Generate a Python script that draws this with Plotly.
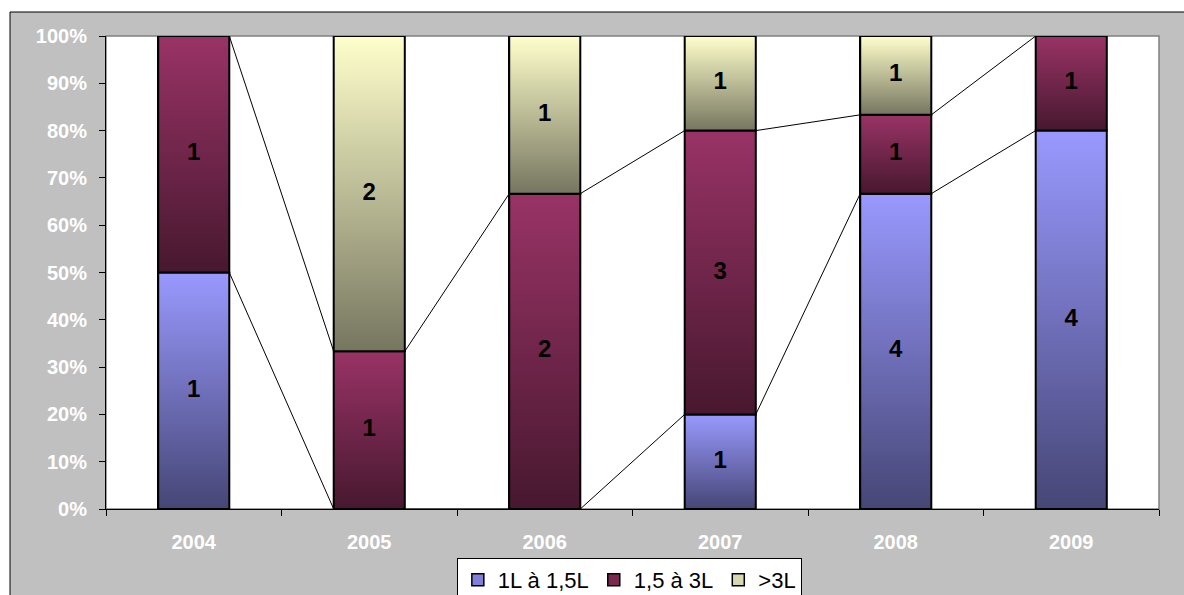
import plotly.graph_objects as go

# ---------------- data ----------------
years = ["2004", "2005", "2006", "2007", "2008", "2009"]
series_names = ["1L à 1,5L", "1,5 à 3L", ">3L"]
count_small = [1, 0, 0, 1, 4, 4]      # 1L à 1,5L
count_medium = [1, 1, 2, 3, 1, 1]     # 1,5 à 3L
count_large = [0, 2, 1, 1, 1, 0]      # >3L
y_tick_values = [0, 10, 20, 30, 40, 50, 60, 70, 80, 90, 100]
y_tick_labels = ["0%", "10%", "20%", "30%", "40%", "50%", "60%", "70%", "80%", "90%", "100%"]

# ---------------- styles ----------------
light_colors = ["#9999FF", "#993366", "#FFFFCC"]
dark_colors = ["#464676", "#47182F", "#767660"]
legend_colors = ["#8080D8", "#7A2850", "#D8D8B0"]
FONT = "Arial, 'Liberation Sans', sans-serif"
BAR_W = 0.405

counts = [count_small, count_medium, count_large]
n = len(years)
xs = list(range(n))
totals = [sum(c[i] for c in counts) for i in range(n)]
pcts = [[c[i] / totals[i] * 100 for i in range(n)] for c in counts]

bottoms = []
tops = []
run = [0.0] * n
for p in pcts:
    bottoms.append(run[:])
    run = [run[i] + p[i] for i in range(n)]
    tops.append(run[:])

fig = go.Figure()

# stacked bars (legend + base geometry)
for s, name in enumerate(series_names):
    fig.add_trace(go.Bar(
        x=xs, y=pcts[s], name=name, width=BAR_W,
        marker=dict(color=legend_colors[s], line=dict(color="black", width=1.5)),
        hoverinfo="skip", textposition="none",
    ))

# gradient overlay for each segment
for s in range(len(series_names)):
    for i in range(n):
        if counts[s][i] <= 0:
            continue
        x0, x1 = i - BAR_W / 2, i + BAR_W / 2
        b, t = bottoms[s][i], tops[s][i]
        fig.add_trace(go.Scatter(
            x=[x0, x1, x1, x0, x0], y=[b, b, t, t, b],
            mode="lines", fill="toself",
            fillgradient=dict(type="vertical",
                              colorscale=[[0, dark_colors[s]], [1, light_colors[s]]]),
            line=dict(color="black", width=2),
            showlegend=False, hoverinfo="skip",
        ))

# series lines
for s in range(len(series_names) - 1):
    lx, ly = [], []
    for i in range(n - 1):
        lx += [i + BAR_W / 2, i + 1 - BAR_W / 2, None]
        ly += [tops[s][i], tops[s][i + 1], None]
    fig.add_trace(go.Scatter(x=lx, y=ly, mode="lines",
                             line=dict(color="black", width=1),
                             showlegend=False, hoverinfo="skip"))

# data labels
tx, ty, tt = [], [], []
for s in range(len(series_names)):
    for i in range(n):
        if counts[s][i] > 0:
            tx.append(i)
            ty.append(bottoms[s][i] + pcts[s][i] / 2)
            tt.append(str(counts[s][i]))
fig.add_trace(go.Scatter(x=tx, y=ty, text=tt, mode="text",
                         textfont=dict(family=FONT, size=24, color="black", weight="bold"),
                         showlegend=False, hoverinfo="skip"))

# frame geometry (pixels -> paper)
L, R, T, B = 106, 1159, 36, 509
PW, PH = R - L, B - T
def px(x):
    return (x - L) / PW
def py(y):
    return (B - y) / PH

shapes = [
    dict(type="rect", xref="paper", yref="paper", x0=0, x1=1, y0=0, y1=1,
         line=dict(color="#808080", width=1.5), layer="below"),
    dict(type="rect", xref="paper", yref="paper", x0=-1, x1=px(10), y0=-1, y1=3,
         fillcolor="white", line=dict(width=0), layer="above"),
    dict(type="rect", xref="paper", yref="paper", x0=-1, x1=3, y0=py(12), y1=3,
         fillcolor="white", line=dict(width=0), layer="above"),
    dict(type="line", xref="paper", yref="paper", x0=px(10), x1=px(10), y0=-1, y1=py(12),
         line=dict(color="black", width=1), layer="above"),
    dict(type="line", xref="paper", yref="paper", x0=px(10), x1=3, y0=py(12), y1=py(12),
         line=dict(color="black", width=1), layer="above"),
]

fig.update_layout(
    width=1184, height=595,
    margin=dict(l=L, r=1184 - R, t=T, b=595 - B, autoexpand=False),
    paper_bgcolor="#C0C0C0", plot_bgcolor="white",
    barmode="stack", bargap=0,
    showlegend=True,
    legend=dict(orientation="h", x=0.497, xanchor="center", y=py(558), yanchor="top",
                bgcolor="white", bordercolor="black", borderwidth=1,
                font=dict(family=FONT, size=22, color="black"),
                traceorder="normal"),
    shapes=shapes,
    font=dict(family=FONT),
)
fig.update_xaxes(
    range=[-0.5, n - 0.5], tickmode="array", tickvals=xs, ticktext=years,
    ticks="", showgrid=False, zeroline=False,
    showline=True, linecolor="black", linewidth=1,
    tickfont=dict(family=FONT, size=20, color="white", weight="bold"),
    ticklabelstandoff=15,
    minor=dict(tickmode="array", tickvals=[i - 0.5 for i in range(n + 1)],
               ticks="outside", ticklen=6, tickcolor="black", tickwidth=1, showgrid=False),
)
fig.update_yaxes(
    range=[0, 100], tickmode="array", tickvals=y_tick_values, ticktext=y_tick_labels,
    ticks="outside", ticklen=6, tickcolor="black", showgrid=False, zeroline=False,
    showline=True, linecolor="black", linewidth=1,
    tickfont=dict(family=FONT, size=20, color="white", weight="bold"),
    ticklabelstandoff=8,
)

fig.write_html("out.html", config={"displayModeBar": False},
               post_script="document.body.style.margin='0';document.body.style.overflow='hidden';")
